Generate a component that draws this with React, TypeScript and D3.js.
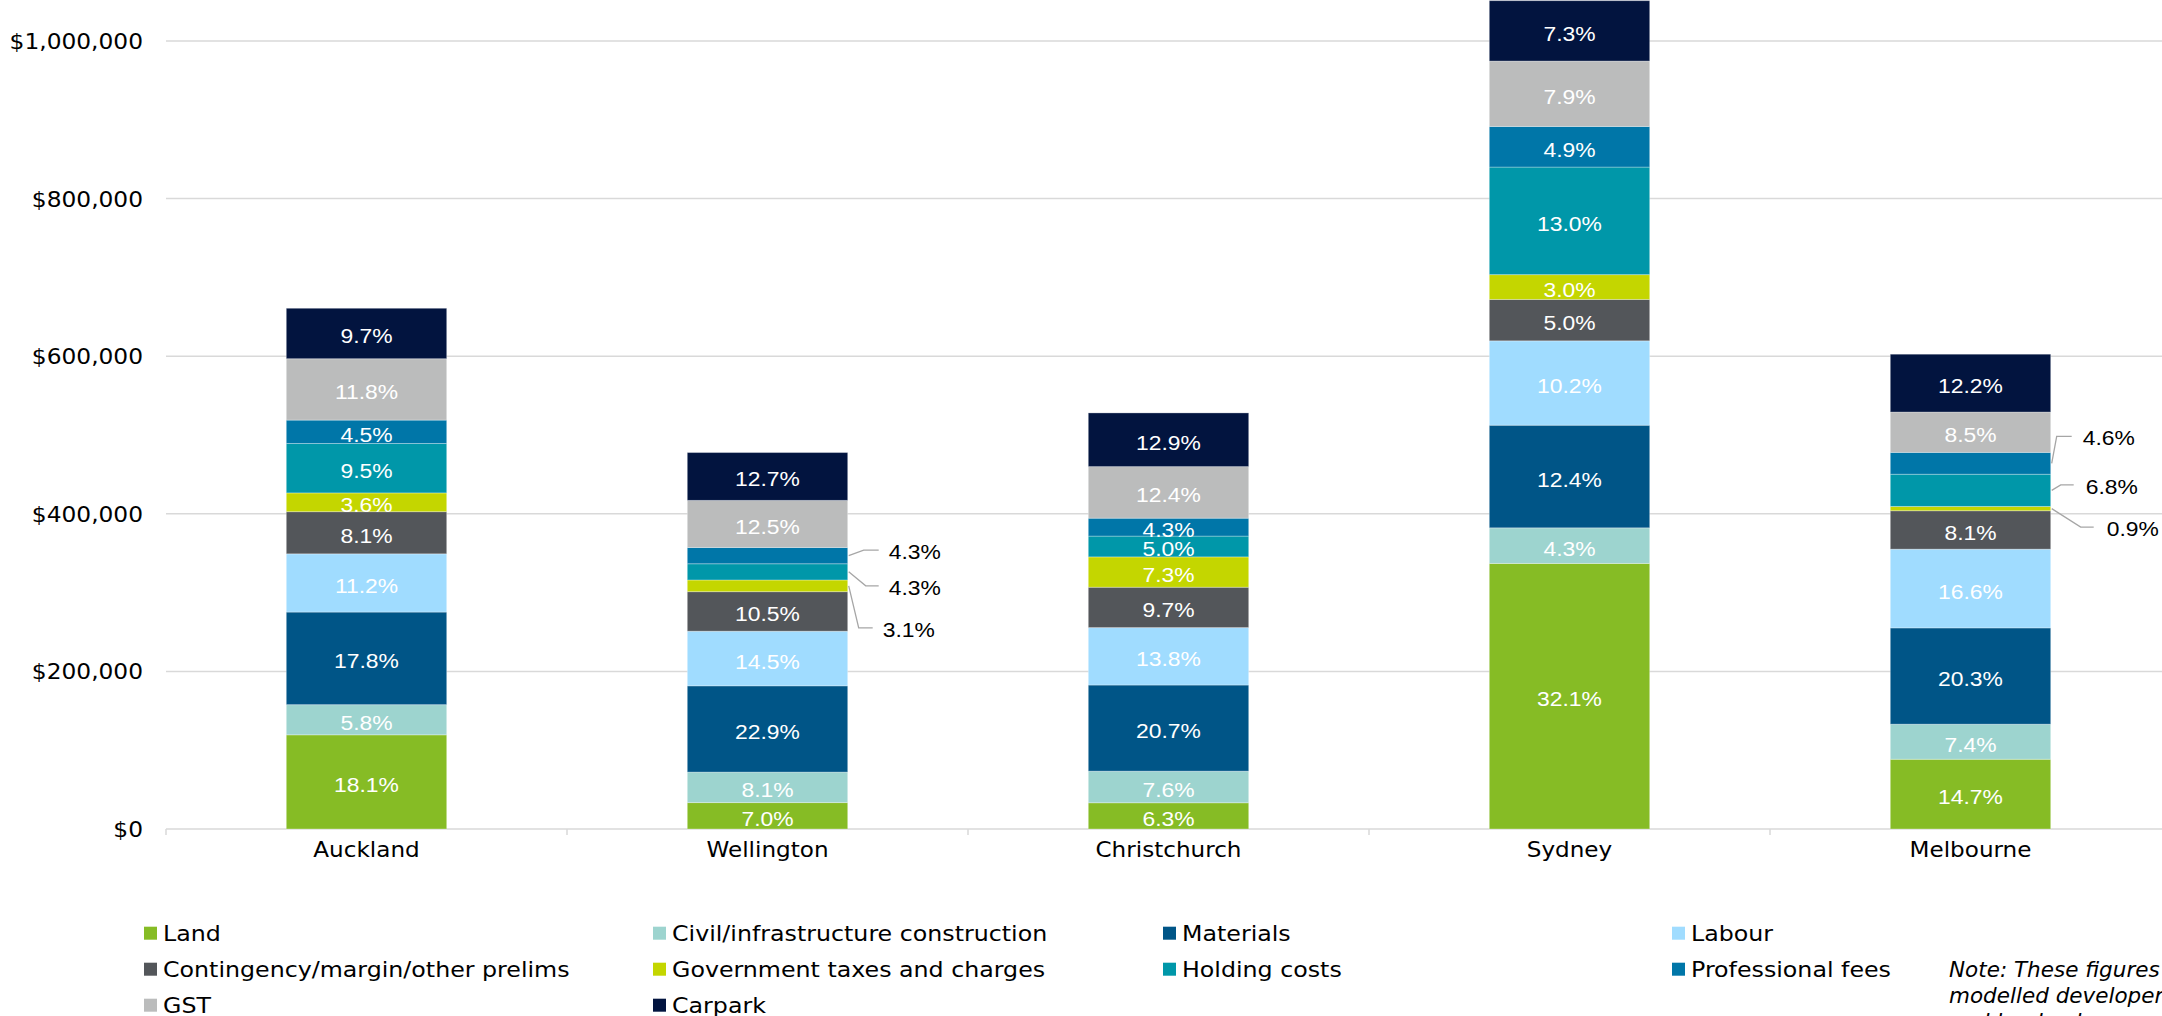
import React from "react";
import * as d3 from "d3";

const cities = ["Auckland", "Wellington", "Christchurch", "Sydney", "Melbourne"];
const seriesNames = [
  "Land",
  "Civil/infrastructure construction",
  "Materials",
  "Labour",
  "Contingency/margin/other prelims",
  "Government taxes and charges",
  "Holding costs",
  "Professional fees",
  "GST",
  "Carpark",
];

// dollar values (per city, same order as cities)
const land = [119500, 33500, 33300, 337000, 88500];
const civil = [38300, 38700, 40100, 45200, 44500];
const materials = [117500, 109500, 109300, 130200, 122200];
const labour = [73900, 69300, 72900, 107100, 99900];
const contingency = [53500, 50200, 51200, 52500, 48800];
const govt = [23800, 14800, 38500, 31500, 5400];
const holding = [62700, 20600, 26400, 136500, 40900];
const professional = [29700, 20600, 22700, 51500, 27700];
const gst = [77900, 59800, 65500, 83000, 51200];
const carpark = [64000, 60700, 68100, 76700, 73400];

// share labels printed on the segments
const landPct = ["18.1%", "7.0%", "6.3%", "32.1%", "14.7%"];
const civilPct = ["5.8%", "8.1%", "7.6%", "4.3%", "7.4%"];
const materialsPct = ["17.8%", "22.9%", "20.7%", "12.4%", "20.3%"];
const labourPct = ["11.2%", "14.5%", "13.8%", "10.2%", "16.6%"];
const contingencyPct = ["8.1%", "10.5%", "9.7%", "5.0%", "8.1%"];
const govtPct = ["3.6%", "3.1%", "7.3%", "3.0%", "0.9%"];
const holdingPct = ["9.5%", "4.3%", "5.0%", "13.0%", "6.8%"];
const professionalPct = ["4.5%", "4.3%", "4.3%", "4.9%", "4.6%"];
const gstPct = ["11.8%", "12.5%", "12.4%", "7.9%", "8.5%"];
const carparkPct = ["9.7%", "12.7%", "12.9%", "7.3%", "12.2%"];

const yTicks = [0, 200000, 400000, 600000, 800000, 1000000];

const colors = [
  "#86BC25",
  "#9DD4CF",
  "#005587",
  "#A0DCFF",
  "#53565A",
  "#C4D600",
  "#0097A9",
  "#0076A8",
  "#BBBCBC",
  "#02143F",
];

const values = [land, civil, materials, labour, contingency, govt, holding, professional, gst, carpark];
const labels = [landPct, civilPct, materialsPct, labourPct, contingencyPct, govtPct, holdingPct, professionalPct, gstPct, carparkPct];

// labels drawn outside the bar with a leader line
const callouts = [
  { city: "Wellington", s: 7, dy: 3.5, elbow: 16, end: 31, tx: 41 },
  { city: "Wellington", s: 6, dy: 23, elbow: 18, end: 31, tx: 41 },
  { city: "Wellington", s: 5, dy: 51, elbow: 11, end: 25, tx: 35 },
  { city: "Melbourne", s: 7, dy: -18, elbow: 6, end: 21, tx: 32 },
  { city: "Melbourne", s: 6, dy: 3.5, elbow: 10, end: 23, tx: 35 },
  { city: "Melbourne", s: 5, dy: 27.5, elbow: 30, end: 43, tx: 56 },
];

const W = 2162;
const H = 1016;
const verdana = "'DejaVu Sans', Verdana, sans-serif";
const arial = "'Liberation Sans', Arial, sans-serif";

const SText = ({ x, y, anchor = "start", sx = 1.1, children, ...rest }: any) => (
  <text transform={`translate(${x},${y}) scale(${sx},1)`} textAnchor={anchor} {...rest}>
    {children}
  </text>
);

const App = () => {
  const x = d3.scaleBand().domain(cities).range([166, 2171]).paddingInner(0.6).paddingOuter(0.3);
  const y = d3.scaleLinear().domain([0, 1052000]).range([829, 0]);

  const rows = cities.map((c, i) => {
    const r: any = { city: c };
    seriesNames.forEach((s, k) => (r[s] = values[k][i]));
    return r;
  });
  const stacked = d3.stack().keys(seriesNames)(rows);
  const calloutKeys = new Set(callouts.map((c) => c.city + "|" + c.s));

  const step = x.step();
  const gap = step - x.bandwidth();
  const tickXs = cities.map((c) => (x(c) as number) - gap / 2);
  tickXs.push(tickXs[tickXs.length - 1] + step);

  const legendCols = [144, 653, 1163, 1672];
  const legendRows = [940.7, 976.7, 1012.7];

  return (
    <svg
      width={W}
      height={H}
      style={{ position: "absolute", left: 0, top: 0, display: "block", background: "#fff" }}
    >
      {/* gridlines */}
      {yTicks.map((t) => (
        <line key={t} x1={166} x2={2171} y1={y(t)} y2={y(t)} stroke="#D9D9D9" strokeWidth={1.5} />
      ))}
      {tickXs.map((tx, i) => (
        <line key={i} x1={tx} x2={tx} y1={y(0)} y2={y(0) + 6} stroke="#D9D9D9" strokeWidth={1.5} />
      ))}
      {yTicks.map((t) => (
        <SText key={t} x={143} y={y(t) + 8} anchor="end" sx={1.11} fontFamily={verdana} fontSize={21} fill="#000">
          {d3.format("$,")(t)}
        </SText>
      ))}

      {/* bars */}
      {stacked.map((layer, k) => (
        <g key={layer.key}>
          {layer.map((d: any, i) => (
            <rect
              key={i}
              x={x(cities[i])}
              y={y(d[1])}
              width={x.bandwidth()}
              height={y(d[0]) - y(d[1])}
              fill={colors[k]}
              stroke="rgba(255,255,255,0.3)"
              strokeWidth={1}
            />
          ))}
        </g>
      ))}

      {/* segment labels */}
      {stacked.map((layer, k) =>
        layer.map((d: any, i) => {
          if (calloutKeys.has(cities[i] + "|" + k)) return null;
          const mid = (y(d[0]) + y(d[1])) / 2;
          return (
            <text
              key={k + "-" + i}
              transform={`translate(${(x(cities[i]) as number) + x.bandwidth() / 2},${mid + 10}) scale(1.09,1)`}
              textAnchor="middle"
              fontFamily={arial}
              fontSize={21}
              fill="#fff"
            >
              {labels[k][i]}
            </text>
          );
        })
      )}

      {/* callouts */}
      {callouts.map((c, j) => {
        const i = cities.indexOf(c.city);
        const d: any = stacked[c.s][i];
        const mid = (y(d[0]) + y(d[1])) / 2;
        const xr = (x(c.city) as number) + x.bandwidth();
        const ly = mid + c.dy;
        return (
          <g key={j}>
            <polyline
              points={`${xr + 1},${mid} ${xr + c.elbow},${ly - 9} ${xr + c.end},${ly - 9}`}
              fill="none"
              stroke="#A6A6A6"
              strokeWidth={1.3}
            />
            <text
              transform={`translate(${xr + c.tx},${ly}) scale(1.09,1)`}
              fontFamily={arial}
              fontSize={21}
              fill="#000"
            >
              {labels[c.s][i]}
            </text>
          </g>
        );
      })}

      {/* category labels */}
      {cities.map((c) => (
        <SText
          key={c}
          x={(x(c) as number) + x.bandwidth() / 2}
          y={856.7}
          anchor="middle"
          fontFamily={verdana}
          fontSize={21}
          fill="#000"
        >
          {c}
        </SText>
      ))}

      {/* legend */}
      {seriesNames.map((s, k) => {
        const lx = legendCols[k % 4];
        const ly = legendRows[Math.floor(k / 4)];
        return (
          <g key={s}>
            <rect x={lx} y={ly - 14} width={13} height={13} fill={colors[k]} />
            <SText x={lx + 19} y={ly} sx={1.13} fontFamily={verdana} fontSize={21} fill="#000">
              {s}
            </SText>
          </g>
        );
      })}

      {/* note */}
      <g fontFamily={verdana} fontSize={21.5} fontStyle="italic" fill="#000">
        <text x={1949} y={977.3}>Note: These figures are based on</text>
        <text x={1949} y={1002.7}>modelled developer costs</text>
        <text x={1949} y={1028.5}>and land values</text>
      </g>
    </svg>
  );
};

export default App;
